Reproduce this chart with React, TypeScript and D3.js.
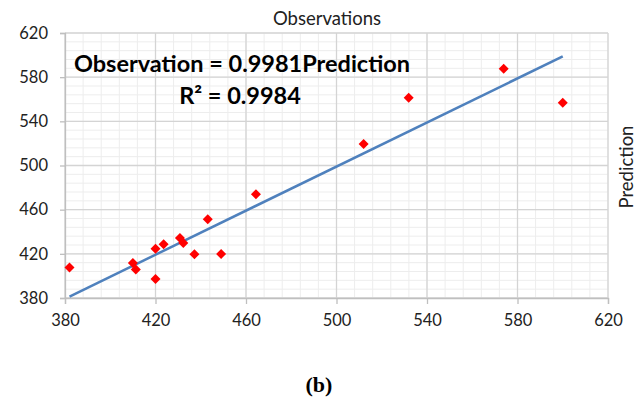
import { useEffect, useRef } from "react";
import * as d3 from "d3";

// prediction (x) vs observation (y)
const prediction = [382, 410, 411.3, 420, 420, 423.6, 430.8, 432.3, 437.2, 443.1, 449, 464.4, 512, 531.9, 573.9, 600];
const observation = [407.6, 411.8, 405.8, 424.5, 397.2, 428.7, 434.4, 429.9, 419.6, 451.4, 419.9, 474, 519.4, 561.4, 587.6, 556.8];
const majorTicks = [380, 420, 460, 500, 540, 580, 620];
const trendRange = [382, 600];
const slope = 0.9981;

export default function App() {
  const ref = useRef<SVGSVGElement | null>(null);

  useEffect(() => {
    const width = 639;
    const height = 399;
    const margin = { top: 33, right: 31, bottom: 101, left: 65 };

    const svg = d3.select(ref.current).attr("width", width).attr("height", height);
    svg.selectAll("*").remove();
    svg.append("rect").attr("width", width).attr("height", height).attr("fill", "#fff");

    const x = d3.scaleLinear().domain([380, 620]).range([margin.left, width - margin.right]);
    const y = d3.scaleLinear().domain([380, 620]).range([height - margin.bottom, margin.top]);

    const minor = d3.range(380, 620.1, 8);
    const grid = svg.append("g");
    grid
      .selectAll("line.mx")
      .data(minor)
      .enter()
      .append("line")
      .attr("x1", (d) => x(d))
      .attr("x2", (d) => x(d))
      .attr("y1", y(380))
      .attr("y2", y(620))
      .attr("stroke", "#ededed");
    grid
      .selectAll("line.my")
      .data(minor)
      .enter()
      .append("line")
      .attr("y1", (d) => y(d))
      .attr("y2", (d) => y(d))
      .attr("x1", x(380))
      .attr("x2", x(620))
      .attr("stroke", "#ededed");
    grid
      .selectAll("line.Mx")
      .data(majorTicks)
      .enter()
      .append("line")
      .attr("x1", (d) => x(d))
      .attr("x2", (d) => x(d))
      .attr("y1", y(380))
      .attr("y2", y(620))
      .attr("stroke", "#d4d4d4")
      .attr("stroke-width", 1.3);
    grid
      .selectAll("line.My")
      .data(majorTicks)
      .enter()
      .append("line")
      .attr("y1", (d) => y(d))
      .attr("y2", (d) => y(d))
      .attr("x1", x(380))
      .attr("x2", x(620))
      .attr("stroke", "#d4d4d4")
      .attr("stroke-width", 1.3);

    const font = "Lato, 'Open Sans', sans-serif";

    const xAxis = svg
      .append("g")
      .attr("transform", `translate(0, ${y(380)})`)
      .call(d3.axisBottom(x).tickValues(majorTicks).tickSize(6).tickPadding(10));
    const yAxis = svg
      .append("g")
      .attr("transform", `translate(${x(380)}, 0)`)
      .call(d3.axisLeft(y).tickValues(majorTicks).tickSize(5).tickPadding(12));
    [xAxis, yAxis].forEach((g) => {
      g.select(".domain").attr("stroke", "#bfbfbf").attr("stroke-width", 1.3);
      g.selectAll(".tick line").attr("stroke", "#bfbfbf").attr("stroke-width", 1.3);
      g.selectAll(".tick text").attr("fill", "#222").style("font-family", font).style("font-size", "16.5px");
    });

    svg
      .append("line")
      .attr("x1", x(trendRange[0]))
      .attr("y1", y(trendRange[0] * slope))
      .attr("x2", x(trendRange[1]))
      .attr("y2", y(trendRange[1] * slope))
      .attr("stroke", "#4f81bd")
      .attr("stroke-width", 2.5);

    const diamond = d3.symbol().type(d3.symbolSquare).size(50);
    svg
      .selectAll("path.pt")
      .data(prediction)
      .enter()
      .append("path")
      .attr("d", diamond)
      .attr("transform", (d, i) => `translate(${x(d)}, ${y(observation[i])}) rotate(45)`)
      .attr("fill", "#ff0000");

    svg
      .append("text")
      .attr("x", 327)
      .attr("y", 25)
      .attr("text-anchor", "middle")
      .style("font-family", font)
      .style("font-size", "18.5px")
      .attr("fill", "#222")
      .text("Observations");

    svg
      .append("text")
      .attr("transform", "translate(633, 167) rotate(-90)")
      .attr("text-anchor", "middle")
      .style("font-family", font)
      .style("font-size", "18.5px")
      .attr("fill", "#222")
      .text("Prediction");

    svg
      .append("text")
      .attr("x", 242)
      .attr("y", 72)
      .attr("text-anchor", "middle")
      .style("font-family", font)
      .style("font-size", "23.5px")
      .style("font-weight", "bold")
      .attr("fill", "#000")
      .text(`Observation = ${slope}Prediction`);

    svg
      .append("text")
      .attr("x", 240)
      .attr("y", 104)
      .attr("text-anchor", "middle")
      .style("font-family", font)
      .style("font-size", "23.5px")
      .style("font-weight", "bold")
      .attr("fill", "#000")
      .text("R² = 0.9984");

    svg
      .append("text")
      .attr("x", 319)
      .attr("y", 392)
      .attr("text-anchor", "middle")
      .style("font-family", "'Liberation Serif', serif")
      .style("font-size", "22px")
      .style("font-weight", "bold")
      .attr("fill", "#000")
      .text("(b)");
  }, []);

  return (
    <div style={{ position: "absolute", left: 0, top: 0 }}>
      <svg ref={ref} style={{ display: "block" }} />
    </div>
  );
}
